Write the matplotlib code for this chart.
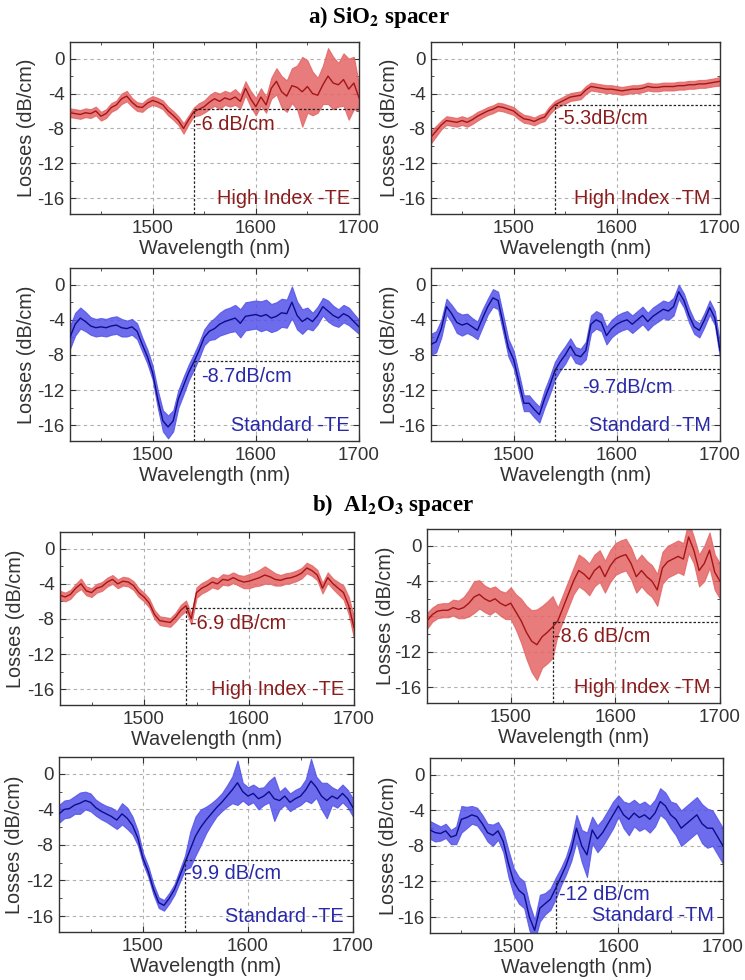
import numpy as np
import matplotlib
matplotlib.use("Agg")
import matplotlib.pyplot as plt
from matplotlib.ticker import MultipleLocator

plt.rcParams['font.family'] = ['Liberation Sans', 'DejaVu Sans']
plt.rcParams['axes.unicode_minus'] = False
plt.rcParams['mathtext.fontset'] = 'stix'

# ---------------- data ----------------
wavelength = np.arange(1420, 1701, 5)

p1_mean = [-6.2,-6.3,-6.4,-6.2,-6.3,-6.0,-6.6,-6.3,-5.6,-5.3,-4.6,-4.3,-5.0,-5.5,-5.6,-5.1,-4.8,-5.0,-5.3,-6.0,-6.5,-7.1,-8.0,-7.0,-6.1,
           -5.8,-5.5,-5.0,-4.6,-4.9,-4.5,-4.7,-4.4,-4.9,-3.4,-4.6,-5.5,-4.4,-5.3,-3.4,-2.6,
           -3.8,-4.3,-3.1,-3.3,-3.8,-3.2,-4.0,-4.2,-3.0,-2.0,-2.8,-3.0,-2.4,-3.5,-2.8,-4.5]
p1_err = [0.5,0.5,0.5,0.5,0.5,0.5,0.5,0.5,0.5,0.5,0.6,0.6,0.5,0.5,0.5,0.5,0.5,0.5,0.5,0.5,0.5,0.5,0.6,0.5,0.5,
          0.7,0.7,0.8,0.8,0.9,0.8,0.8,0.9,0.8,0.8,0.9,1.0,1.0,0.9,1.2,1.5,
          1.8,1.8,2.0,2.5,4.0,3.0,2.5,2.0,2.2,3.2,3.0,2.5,3.0,3.5,3.0,1.5]

p2_mean = [-9.0,-8.3,-7.6,-7.1,-7.2,-7.3,-7.1,-7.3,-7.0,-6.6,-6.3,-6.0,-5.8,-5.5,-5.6,-5.8,-6.0,-6.5,-6.9,-7.0,-7.2,-6.9,-6.7,-5.9,-5.3,
           -5.0,-4.7,-4.4,-4.3,-4.2,-3.6,-3.2,-3.3,-3.4,-3.5,-3.5,-3.6,-3.7,-3.6,-3.5,-3.5,
           -3.4,-3.2,-3.3,-3.3,-3.2,-3.2,-3.2,-3.1,-3.1,-3.0,-3.0,-2.9,-2.9,-2.8,-2.7,-2.6]
p2_err = [0.7,0.6,0.5,0.5,0.5,0.5,0.5,0.5,0.5,0.5,0.45,0.45,0.45,0.45,0.45,0.45,0.45,0.45,0.45,0.45,0.45,0.45,0.45,0.45,0.45,
          0.45,0.45,0.45,0.45,0.45,0.45,0.45,0.45,0.45,0.45,0.45,0.45,0.45,0.45,0.45,0.45,
          0.45,0.45,0.45,0.45,0.45,0.45,0.45,0.45,0.45,0.45,0.45,0.45,0.45,0.45,0.45,0.5]

p3_mean = [-6.0,-4.5,-3.8,-4.2,-4.7,-4.9,-4.8,-4.9,-4.7,-4.6,-4.9,-5.0,-4.8,-5.3,-6.8,-8.2,-10.0,-13.0,-15.5,-16.2,-15.5,-13.0,-11.5,-10.0,-8.8,
           -7.5,-6.0,-5.3,-5.0,-4.5,-4.2,-4.0,-3.8,-4.4,-3.6,-3.5,-3.4,-3.6,-3.4,-3.8,-3.6,
           -3.2,-3.3,-2.0,-3.5,-4.2,-3.8,-4.2,-3.5,-2.5,-3.0,-3.5,-3.8,-3.3,-3.6,-4.2,-4.8]
p3_err = [1.3,1.3,1.2,1.1,1.0,1.0,1.0,1.0,1.0,1.0,1.0,0.9,0.9,0.9,0.8,0.8,0.8,1.0,1.2,1.3,1.2,1.0,1.0,0.9,0.9,
          0.9,0.9,1.0,1.2,1.3,1.4,1.4,1.5,1.6,1.6,1.6,1.6,1.7,1.7,1.6,1.6,
          1.6,1.6,1.8,1.6,1.4,1.2,1.0,1.0,1.0,1.2,1.1,1.0,1.0,1.0,0.9,0.8]

p4_mean = [-6.8,-6.5,-5.0,-2.5,-3.3,-4.3,-4.6,-4.4,-4.8,-5.2,-3.8,-2.5,-1.5,-1.8,-4.5,-7.2,-8.5,-11.0,-13.5,-13.5,-14.2,-14.8,-13.0,-11.5,-9.8,
           -8.8,-8.0,-7.0,-8.0,-8.2,-7.5,-4.5,-4.0,-4.3,-5.8,-5.0,-4.5,-4.2,-4.0,-4.5,-4.0,
           -3.5,-4.2,-3.6,-3.2,-2.8,-3.0,-2.5,-0.8,-1.8,-3.5,-4.8,-5.2,-4.0,-2.6,-3.8,-7.5]
p4_err = [1.2,1.2,1.0,0.9,1.0,1.2,1.2,1.1,1.0,1.0,1.0,0.9,1.0,1.0,1.0,1.0,1.0,1.0,0.9,0.9,0.9,0.9,1.0,1.0,1.0,
          1.0,1.0,0.9,0.9,0.9,1.0,1.0,1.0,1.0,1.0,1.0,1.0,1.0,1.0,1.0,1.0,
          1.0,1.0,1.0,1.0,1.0,1.0,1.0,0.8,0.8,0.8,0.8,0.8,0.8,0.8,0.8,0.8]

p5_mean = [-5.3,-5.5,-5.2,-4.5,-4.0,-4.8,-5.0,-4.5,-4.3,-3.8,-3.5,-4.0,-3.7,-3.8,-4.2,-5.0,-5.5,-6.2,-7.5,-8.2,-8.3,-8.4,-7.8,-7.0,-6.5,
           -8.0,-5.0,-4.5,-4.2,-3.8,-4.0,-3.5,-3.6,-3.3,-3.6,-3.8,-3.7,-3.5,-3.3,-3.0,-3.2,
           -3.5,-3.6,-3.4,-3.3,-3.1,-2.8,-2.2,-2.5,-3.0,-4.5,-3.3,-4.0,-4.5,-5.0,-6.5,-9.0]
p5_err = [0.5,0.5,0.5,0.5,0.6,0.5,0.5,0.5,0.5,0.5,0.5,0.5,0.5,0.5,0.5,0.5,0.5,0.5,0.5,0.5,0.5,0.5,0.5,0.6,0.6,
          0.6,0.6,0.6,0.6,0.6,0.6,0.6,0.6,0.6,0.6,0.7,0.8,0.8,0.9,1.0,0.8,
          0.7,0.6,0.6,0.6,0.6,0.6,0.6,0.6,0.6,0.6,0.6,0.6,0.7,0.8,1.0,1.2]

p6_mean = [-8.5,-7.8,-7.4,-7.3,-7.3,-7.0,-7.2,-7.0,-6.5,-5.8,-5.5,-6.0,-6.3,-6.0,-6.5,-6.8,-6.5,-7.5,-8.5,-9.8,-10.8,-11.2,-10.3,-9.8,-9.2,
           -8.5,-7.0,-5.5,-4.0,-2.8,-3.2,-3.8,-2.8,-2.3,-3.5,-2.3,-1.5,-1.2,-1.0,-2.0,-3.5,
           -2.8,-3.5,-4.0,-5.0,-2.5,-1.8,-1.5,-1.2,-1.5,1.0,-0.5,-2.8,-2.0,-0.5,-3.0,-4.0]
p6_err = [0.9,0.8,0.8,0.8,0.8,0.9,1.0,1.2,1.5,1.8,1.6,1.5,1.5,1.4,1.4,1.5,1.8,2.0,2.5,3.0,3.5,4.0,3.5,3.5,3.5,
          1.5,1.5,1.5,1.5,1.8,1.8,1.8,1.8,1.8,1.8,1.8,1.8,1.8,1.8,1.8,1.8,
          1.8,1.8,1.8,1.8,1.8,1.8,1.8,1.8,1.8,1.8,1.5,1.8,2.0,2.0,2.0,2.0]

p7_mean = [-4.5,-4.0,-3.9,-3.5,-3.3,-3.0,-3.2,-3.8,-4.2,-4.5,-4.8,-5.2,-4.5,-5.0,-5.8,-7.2,-9.5,-11.0,-13.0,-14.5,-14.8,-14.0,-13.0,-11.5,-10.0,
           -8.5,-7.0,-6.0,-5.2,-4.5,-3.8,-3.2,-2.5,-1.8,-1.0,-2.0,-2.5,-2.2,-2.8,-2.5,-2.0,
           -2.8,-3.0,-2.5,-3.2,-2.8,-2.5,-1.8,-0.8,-1.5,-2.5,-3.0,-2.5,-2.8,-2.2,-2.8,-3.8]
p7_err = [1.0,1.0,1.0,1.0,1.2,1.0,1.0,0.9,0.9,0.9,1.0,1.0,1.2,1.2,1.0,0.8,0.6,0.6,0.6,0.6,0.6,0.6,0.6,0.7,0.8,
          2.0,2.2,2.0,1.5,1.2,1.0,1.0,1.2,1.5,2.5,1.0,1.0,1.0,1.2,1.0,1.2,
          2.5,1.0,1.0,1.0,1.0,1.0,1.2,2.5,1.2,1.5,2.0,1.0,1.0,1.0,1.0,1.0]

p8_mean = [-6.2,-6.5,-6.6,-6.3,-7.0,-6.8,-5.0,-4.8,-4.5,-4.7,-5.5,-6.5,-6.8,-6.3,-7.5,-10.0,-12.0,-13.0,-13.5,-16.0,-17.5,-15.0,-14.5,-14.0,-12.8,
           -11.5,-10.2,-8.5,-6.0,-8.0,-9.0,-6.2,-7.2,-6.5,-5.5,-4.5,-3.5,-4.5,-5.0,-4.3,-4.8,
           -4.5,-5.0,-4.3,-3.0,-3.5,-4.5,-5.0,-6.0,-5.5,-5.0,-4.5,-5.5,-6.0,-6.0,-7.0,-8.0]
p8_err = [1.0,1.0,0.8,0.8,0.8,1.0,1.5,1.2,1.0,1.0,1.0,1.0,1.2,1.0,1.2,1.5,1.5,1.5,1.5,1.5,1.2,1.5,1.2,1.2,1.2,
          1.0,1.0,1.2,1.5,1.8,2.5,1.5,1.5,1.5,1.5,1.5,1.2,1.5,1.8,1.5,1.5,
          1.5,1.5,1.5,1.5,1.5,1.5,1.8,2.0,2.0,2.0,2.0,2.2,2.2,2.0,2.0,2.0]

panel_means = [p1_mean, p2_mean, p3_mean, p4_mean, p5_mean, p6_mean, p7_mean, p8_mean]
panel_errs = [p1_err, p2_err, p3_err, p4_err, p5_err, p6_err, p7_err, p8_err]
panel_names = ["High Index -TE", "High Index -TM", "Standard -TE", "Standard -TM",
               "High Index -TE", "High Index -TM", "Standard -TE", "Standard -TM"]
panel_kind = ["red", "red", "blue", "blue", "red", "red", "blue", "blue"]
ref_wavelength = 1540
ref_level = [-5.8, -5.3, -8.7, -9.6, -6.7, -8.6, -9.7, -12.0]
ref_labels = ["-6 dB/cm", "-5.3dB/cm", "-8.7dB/cm", "-9.7dB/cm",
              "-6.9 dB/cm", "-8.6 dB/cm", "-9.9 dB/cm", "-12 dB/cm"]
ref_text_pos = [(1541, -7.6), (1542, -6.9), (1547, -10.4), (1566, -11.7),
                (1544, -8.5), (1541, -10.3), (1540, -11.2), (1543, -13.5)]
name_y = [-16.0, -16.0, -16.0, -16.0, -16.0, -16.0, -16.0, -15.8]

# ---------------- layout ----------------
W, H = 745, 980
fig = plt.figure(figsize=(W / 100, H / 100), dpi=100)

boxes = [(70, 42, 359, 214), (431, 42, 720, 214),
         (70, 268, 359, 441), (431, 268, 720, 441),
         (60, 532, 354, 705), (427, 529, 720, 703),
         (59, 757, 353, 932), (430, 758, 723, 933)]

colors = {"red": dict(band="#e56464", line="#a51515", text="#8a1c1c"),
          "blue": dict(band="#5252ea", line="#0c0c8c", text="#2828a8")}

for i, (l, t, r, b) in enumerate(boxes):
    ax = fig.add_axes([l / W, 1 - b / H, (r - l) / W, (b - t) / H])
    c = colors[panel_kind[i]]
    m = np.array(panel_means[i])
    e = np.array(panel_errs[i])
    ax.fill_between(wavelength, m - e, m + e, color=c["band"], alpha=0.85, lw=0.8,
                    edgecolor=c["band"], zorder=2)
    ax.plot(wavelength, m, color=c["line"], lw=1.0, zorder=3)

    ax.set_xlim(1420, 1700)
    ax.set_ylim(-17.8, 1.9)
    ax.xaxis.set_major_locator(MultipleLocator(100))
    ax.xaxis.set_minor_locator(MultipleLocator(50))
    ax.yaxis.set_major_locator(MultipleLocator(4))
    ax.yaxis.set_minor_locator(MultipleLocator(2))
    ax.tick_params(which='both', direction='in', top=True, right=True,
                   colors='#333333', labelcolor='#333333')
    ax.tick_params(which='major', length=4, labelsize=13.5, pad=4)
    ax.tick_params(which='minor', length=2)
    ax.grid(True, which='major', ls=(0, (3, 3)), color='#b0b0b0', lw=0.8, zorder=1)
    for s in ax.spines.values():
        s.set_color('#333333')
        s.set_linewidth(1.0)

    ax.set_xlabel("Wavelength (nm)", fontsize=14.3, color='#333333', labelpad=1.5)
    ax.set_ylabel("Losses (dB/cm)", fontsize=14.3, color='#333333')
    ax.yaxis.set_label_coords(-0.118 if i % 2 == 0 else -0.11, 0.5)

    lvl = ref_level[i]
    ax.plot([ref_wavelength, ref_wavelength], [-17.8, lvl], color='#222222',
            ls=(0, (2, 1.5)), lw=0.9, zorder=4)
    ax.plot([ref_wavelength, 1700], [lvl, lvl], color='#222222',
            ls=(0, (2, 1.5)), lw=0.9, zorder=4)
    tx, ty = ref_text_pos[i]
    ax.text(tx, ty, ref_labels[i], color=c["text"], fontsize=14.3,
            ha='left', va='center', zorder=5)
    ax.text(1691, name_y[i], panel_names[i], color=c["text"], fontsize=14.3,
            ha='right', va='center', zorder=5)

fig.text(308 / W, 1 - 17 / H, r"a) SiO$_\mathbf{2}$ spacer", family='Liberation Serif',
         fontweight='bold', fontsize=16.5, ha='left', va='center')
fig.text(312 / W, 1 - 505 / H, r"b)  Al$_\mathbf{2}$O$_\mathbf{3}$ spacer", family='Liberation Serif',
         fontweight='bold', fontsize=16.5, ha='left', va='center')

fig.savefig("out.png", dpi=100)
